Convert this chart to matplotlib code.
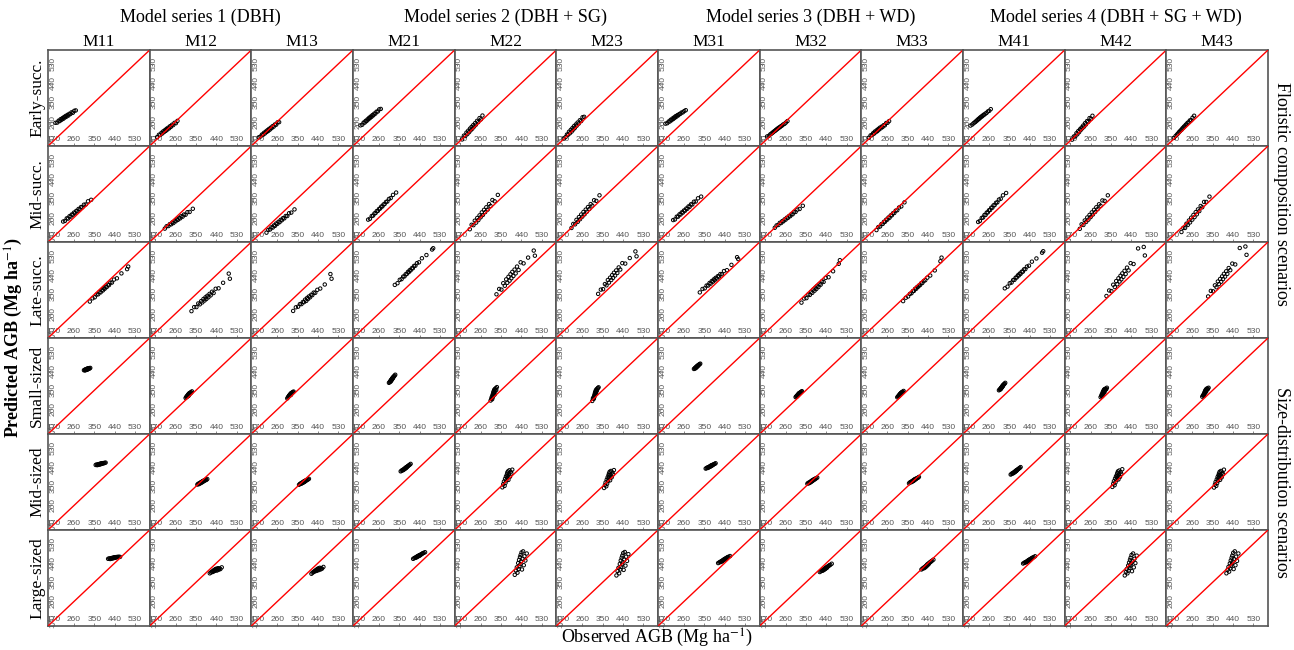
import matplotlib.pyplot as plt

plt.rcParams['font.family'] = ['Liberation Serif', 'DejaVu Serif']
plt.rcParams['mathtext.fontset'] = 'stix'

models = ["M11", "M12", "M13", "M21", "M22", "M23",
          "M31", "M32", "M33", "M41", "M42", "M43"]
series = ["Model series 1 (DBH)", "Model series 2 (DBH + SG)",
          "Model series 3 (DBH + WD)", "Model series 4 (DBH + SG + WD)"]
scenarios = ["Early-succ.", "Mid-succ.", "Late-succ.",
             "Small-sized", "Mid-sized", "Large-sized"]
ticks = [170, 260, 350, 440, 530]

# observed AGB per scenario (same plots for every model)
early_obs = [178, 186, 192, 197, 201, 205, 209, 213, 216, 220, 223, 227, 231, 235, 239, 244, 249, 255, 261, 268]
mid_obs = [212, 220, 228, 234, 240, 245, 250, 255, 260, 265, 270, 275, 280, 285, 291, 297, 304, 312, 322, 336]
late_obs = [330, 342, 352, 360, 367, 373, 378, 383, 388, 392, 396, 400, 405, 410, 415, 421, 428, 437, 450, 470, 495, 500]
small_obs = [304, 307, 309, 311, 312, 313, 314, 315, 316, 317, 318, 319, 320, 321, 322, 323, 325, 327, 329, 332]
midsz_obs = [356, 360, 363, 366, 368, 370, 372, 374, 376, 377, 378, 380, 381, 383, 385, 387, 390, 393, 396, 400]
large_obs = [411, 416, 420, 423, 426, 428, 430, 432, 434, 436, 437, 439, 441, 443, 445, 448, 451, 454, 458, 464]

# predicted AGB, one list per model (M11 ... M43)
early_pred = [
    [254, 255, 264, 262, 271, 268, 276, 273, 281, 279, 286, 283, 291, 288, 296, 295, 303, 301, 310, 312],
    [187, 198, 197, 207, 204, 214, 211, 220, 216, 226, 222, 231, 228, 238, 235, 245, 243, 254, 252, 263],
    [186, 190, 199, 198, 207, 204, 213, 211, 219, 216, 225, 222, 231, 229, 238, 236, 246, 245, 256, 257],
    [242, 245, 255, 255, 263, 262, 270, 270, 277, 276, 283, 282, 290, 289, 297, 297, 306, 307, 317, 319],
    [176, 194, 192, 208, 201, 217, 210, 227, 219, 235, 226, 243, 236, 252, 245, 263, 257, 276, 270, 288],
    [180, 187, 199, 198, 212, 205, 221, 213, 229, 222, 238, 230, 246, 240, 255, 250, 266, 262, 280, 282],
    [250, 252, 260, 260, 268, 266, 274, 272, 279, 278, 285, 283, 290, 289, 295, 296, 302, 303, 309, 313],
    [190, 193, 200, 203, 207, 210, 214, 216, 220, 222, 226, 228, 232, 234, 238, 241, 246, 249, 255, 262],
    [184, 195, 196, 205, 203, 213, 210, 219, 215, 225, 222, 231, 228, 236, 234, 243, 242, 253, 254, 262],
    [241, 246, 252, 256, 259, 264, 266, 272, 272, 278, 279, 284, 285, 291, 292, 297, 300, 307, 310, 318],
    [175, 190, 190, 205, 200, 215, 210, 224, 220, 232, 228, 241, 236, 252, 246, 262, 258, 276, 272, 287],
    [183, 192, 199, 204, 210, 214, 219, 222, 228, 230, 236, 238, 245, 247, 254, 256, 265, 266, 278, 287],
]
mid_pred = [
    [241, 244, 256, 255, 266, 264, 274, 273, 283, 281, 291, 290, 300, 298, 309, 308, 320, 321, 336, 343],
    [208, 219, 220, 229, 228, 237, 234, 244, 242, 251, 249, 258, 256, 266, 264, 274, 273, 285, 286, 301],
    [189, 202, 204, 214, 213, 223, 221, 232, 230, 240, 238, 249, 247, 257, 256, 267, 267, 280, 283, 298],
    [250, 254, 267, 269, 279, 281, 290, 291, 300, 302, 311, 312, 321, 323, 333, 335, 347, 351, 366, 377],
    [205, 226, 224, 245, 236, 258, 248, 270, 261, 284, 272, 296, 285, 308, 297, 323, 314, 342, 336, 366],
    [211, 230, 228, 249, 240, 262, 252, 274, 264, 286, 275, 297, 287, 309, 300, 323, 316, 341, 338, 364],
    [248, 251, 264, 264, 275, 274, 284, 283, 293, 292, 302, 301, 312, 310, 322, 321, 334, 335, 350, 358],
    [212, 223, 225, 235, 234, 243, 242, 251, 250, 259, 258, 267, 266, 275, 275, 285, 286, 297, 300, 315],
    [201, 215, 218, 229, 230, 240, 240, 250, 250, 260, 259, 270, 270, 280, 281, 292, 294, 307, 312, 331],
    [239, 244, 258, 260, 272, 272, 283, 284, 294, 295, 306, 306, 317, 318, 329, 331, 344, 348, 364, 375],
    [207, 228, 225, 246, 239, 260, 250, 272, 262, 284, 274, 296, 286, 308, 299, 322, 315, 340, 338, 364],
    [192, 211, 211, 231, 225, 246, 237, 259, 250, 272, 262, 285, 275, 298, 290, 314, 308, 333, 333, 358],
]
late_pred = [
    [316, 331, 336, 349, 350, 361, 359, 370, 368, 378, 376, 385, 384, 395, 393, 405, 405, 419, 425, 448, 468, 480],
    [271, 290, 290, 307, 303, 318, 312, 328, 321, 336, 328, 343, 336, 352, 345, 362, 356, 376, 378, 404, 447, 423],
    [272, 289, 292, 304, 304, 314, 313, 325, 319, 333, 328, 340, 336, 348, 346, 358, 357, 371, 377, 396, 445, 423],
    [394, 402, 418, 421, 433, 434, 444, 445, 455, 454, 463, 462, 472, 472, 483, 484, 496, 500, 519, 534, 560, 566],
    [350, 375, 372, 402, 390, 420, 404, 432, 414, 444, 425, 455, 436, 466, 448, 480, 464, 500, 495, 522, 555, 531],
    [352, 372, 374, 398, 392, 417, 405, 428, 417, 440, 427, 451, 438, 462, 450, 476, 466, 496, 494, 520, 551, 528],
    [359, 375, 378, 391, 391, 403, 400, 412, 409, 420, 416, 427, 424, 435, 433, 445, 444, 459, 463, 488, 524, 515],
    [311, 330, 332, 349, 347, 362, 357, 373, 367, 382, 375, 390, 384, 399, 395, 411, 408, 427, 430, 458, 493, 510],
    [318, 334, 340, 352, 355, 365, 366, 376, 376, 384, 385, 391, 393, 402, 403, 412, 416, 428, 438, 462, 505, 522],
    [378, 386, 402, 405, 417, 418, 428, 429, 439, 438, 447, 446, 456, 456, 467, 468, 480, 484, 503, 518, 545, 552],
    [342, 368, 365, 395, 384, 412, 397, 425, 410, 437, 420, 448, 432, 460, 445, 475, 462, 496, 492, 565, 572, 532],
    [340, 366, 364, 392, 383, 410, 398, 422, 409, 434, 421, 446, 433, 458, 446, 473, 463, 494, 490, 567, 574, 535],
]
small_pred = [
    [444, 446, 443, 448, 445, 447, 449, 446, 450, 448, 451, 449, 447, 452, 450, 453, 451, 454, 452, 455],
    [314, 318, 322, 320, 325, 322, 328, 326, 331, 324, 333, 329, 336, 331, 334, 338, 336, 341, 339, 345],
    [312, 317, 320, 322, 323, 326, 325, 329, 327, 331, 330, 334, 328, 336, 333, 338, 337, 340, 342, 344],
    [385, 388, 392, 390, 396, 394, 399, 397, 402, 400, 405, 403, 408, 406, 411, 410, 414, 416, 419, 423],
    [302, 310, 318, 308, 325, 316, 332, 322, 340, 328, 346, 335, 352, 342, 330, 356, 348, 360, 352, 365],
    [300, 312, 315, 310, 322, 318, 330, 326, 338, 333, 344, 339, 350, 336, 345, 355, 350, 358, 361, 364],
    [450, 452, 455, 453, 457, 456, 459, 458, 461, 460, 463, 462, 465, 464, 467, 466, 469, 471, 472, 475],
    [318, 322, 320, 326, 323, 328, 326, 331, 329, 333, 330, 336, 333, 337, 335, 339, 338, 341, 343, 346],
    [317, 321, 323, 322, 327, 325, 330, 328, 332, 330, 335, 333, 337, 335, 339, 338, 341, 343, 342, 347],
    [350, 353, 356, 354, 359, 358, 362, 361, 365, 363, 368, 366, 371, 369, 374, 373, 377, 379, 381, 385],
    [318, 324, 330, 322, 336, 328, 342, 334, 346, 338, 350, 344, 354, 340, 348, 356, 352, 358, 355, 362],
    [320, 326, 328, 324, 334, 330, 340, 336, 345, 341, 349, 346, 353, 343, 350, 357, 353, 359, 356, 362],
]
midsz_pred = [
    [450, 452, 449, 453, 451, 454, 452, 455, 453, 456, 454, 457, 455, 456, 458, 457, 459, 458, 460, 461],
    [358, 362, 360, 365, 363, 368, 366, 370, 368, 372, 370, 374, 372, 376, 374, 378, 377, 381, 380, 384],
    [357, 361, 363, 362, 366, 365, 369, 367, 371, 369, 373, 371, 375, 373, 377, 376, 379, 381, 382, 385],
    [420, 423, 426, 425, 429, 428, 432, 431, 435, 434, 437, 436, 440, 439, 442, 444, 446, 449, 451, 455],
    [345, 360, 372, 352, 385, 366, 396, 378, 405, 389, 414, 398, 420, 380, 408, 425, 395, 418, 410, 428],
    [342, 356, 368, 350, 381, 362, 392, 375, 402, 386, 410, 395, 418, 378, 404, 422, 392, 415, 406, 426],
    [433, 435, 438, 436, 440, 439, 442, 441, 444, 443, 446, 445, 448, 447, 450, 449, 452, 454, 455, 458],
    [362, 366, 364, 369, 367, 372, 370, 375, 373, 377, 375, 379, 377, 381, 380, 384, 383, 387, 388, 391],
    [364, 368, 370, 369, 373, 372, 376, 374, 378, 376, 380, 379, 383, 381, 385, 384, 387, 389, 390, 394],
    [405, 408, 411, 410, 414, 413, 417, 416, 420, 419, 422, 421, 425, 424, 427, 429, 431, 434, 436, 440],
    [347, 362, 374, 355, 386, 368, 396, 380, 404, 390, 412, 399, 420, 382, 406, 424, 394, 416, 408, 430],
    [344, 358, 370, 352, 382, 365, 394, 377, 402, 388, 410, 397, 418, 380, 405, 422, 392, 414, 407, 428],
]
large_pred = [
    [460, 462, 459, 463, 461, 464, 462, 465, 463, 466, 464, 467, 465, 466, 468, 467, 469, 468, 470, 469],
    [392, 396, 400, 398, 404, 401, 407, 403, 410, 406, 412, 408, 414, 405, 411, 416, 409, 415, 412, 420],
    [390, 395, 398, 400, 402, 404, 406, 403, 409, 405, 412, 408, 415, 407, 413, 418, 410, 416, 414, 422],
    [460, 463, 466, 465, 469, 468, 472, 471, 474, 473, 476, 475, 478, 477, 480, 482, 484, 486, 488, 491],
    [385, 405, 420, 395, 440, 412, 455, 425, 468, 435, 478, 448, 490, 410, 460, 495, 430, 472, 452, 485],
    [382, 402, 418, 392, 436, 410, 452, 422, 465, 433, 475, 445, 487, 408, 456, 492, 428, 470, 450, 482],
    [440, 443, 446, 445, 449, 448, 452, 451, 455, 454, 457, 456, 460, 459, 462, 464, 466, 468, 470, 473],
    [398, 402, 405, 404, 409, 407, 412, 410, 415, 413, 418, 416, 420, 418, 423, 425, 427, 430, 432, 437],
    [410, 414, 418, 416, 422, 420, 426, 424, 430, 428, 434, 432, 437, 435, 440, 443, 445, 448, 451, 456],
    [438, 441, 444, 443, 447, 446, 450, 449, 453, 452, 455, 454, 458, 457, 460, 462, 464, 466, 468, 472],
    [382, 398, 412, 392, 428, 405, 442, 418, 455, 428, 465, 438, 478, 402, 448, 485, 420, 460, 440, 475],
    [392, 408, 422, 400, 438, 415, 452, 428, 465, 438, 475, 448, 488, 412, 458, 495, 430, 470, 450, 485],
]

rows = [(early_obs, early_pred), (mid_obs, mid_pred), (late_obs, late_pred),
        (small_obs, small_pred), (midsz_obs, midsz_pred), (large_obs, large_pred)]

lo, hi = 145, 595

fig = plt.figure(figsize=(12.94, 6.5), dpi=100)
gs = fig.add_gridspec(6, 12, left=0.0371, right=0.9799, bottom=0.0369, top=0.923,
                      wspace=0, hspace=0)

for i, (obs, preds) in enumerate(rows):
    for j, pred in enumerate(preds):
        ax = fig.add_subplot(gs[i, j])
        ax.scatter(obs, pred, s=6, facecolors='none', edgecolors='black', linewidths=0.7, zorder=2)
        ax.plot([lo, hi], [lo, hi], color='red', lw=1.0, zorder=3)
        ax.set_xlim(lo, hi)
        ax.set_ylim(lo, hi)
        ax.set_xticks(ticks)
        ax.set_yticks(ticks)
        ax.set_xticklabels([str(t) for t in ticks], fontsize=6, family='Liberation Sans', color='#222222')
        ax.set_yticklabels([str(t) for t in ticks], fontsize=6, family='Liberation Sans', color='#222222',
                           rotation=90, va='center')
        ax.tick_params(axis='x', direction='in', length=2, width=0.5, pad=-7, colors='#555555')
        ax.tick_params(axis='y', direction='in', length=2, width=0.5, pad=-6, colors='#555555')
        for sp in ax.spines.values():
            sp.set_color('#555555')
            sp.set_linewidth(1.2)
        if i == 0:
            ax.set_title(models[j], fontsize=12.5, pad=3)
        if j == 0:
            ax.set_ylabel(scenarios[i], fontsize=12.5, labelpad=2)

for k, name in enumerate(series):
    xc = 0.0371 + (0.9799 - 0.0371) * (3 * k + 1.5) / 12
    fig.text(xc, 0.973, name, ha='center', va='center', fontsize=13)

fig.text(0.011, 0.48, 'Predicted AGB (Mg ha$^{-1}$)', rotation=90, ha='center', va='center',
         fontsize=13, fontweight='bold')
fig.text(0.508, 0.018, 'Observed AGB (Mg ha$^{-1}$)', ha='center', va='center', fontsize=13)
fig.text(0.99, 0.7015, 'Floristic composition scenarios', rotation=270, ha='center', va='center',
         fontsize=13)
fig.text(0.99, 0.2585, 'Size-distribution scenarios', rotation=270, ha='center', va='center',
         fontsize=13)

fig.savefig('out.png', dpi=100)
